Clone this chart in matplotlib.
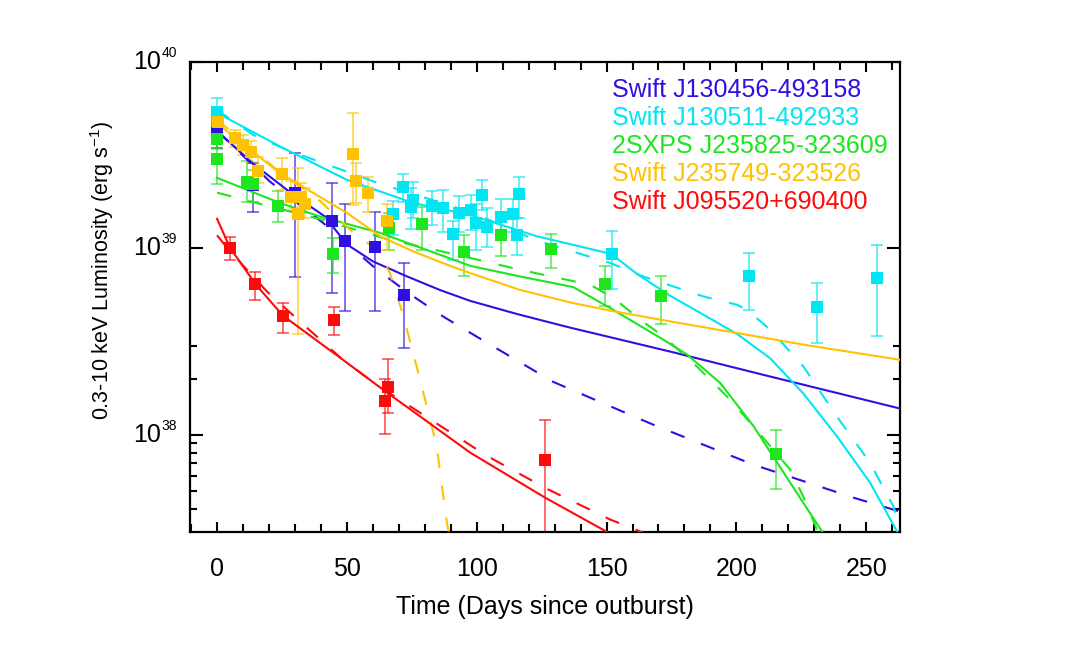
import matplotlib
matplotlib.use("Agg")
import matplotlib.pyplot as plt
import numpy as np
from matplotlib.ticker import FixedLocator, MultipleLocator, NullFormatter

plt.rcParams['font.family'] = 'Liberation Sans'
plt.rcParams['mathtext.fontset'] = 'custom'
plt.rcParams['mathtext.rm'] = 'Liberation Sans'
plt.rcParams['mathtext.it'] = 'Liberation Sans:italic'
plt.rcParams['mathtext.default'] = 'regular'

#Colours of the five sources
BLUE = '#3010e0'
CYAN = '#00e6f2'
GREEN = '#1ee61e'
YELLOW = '#ffc200'
RED = '#ff0a0a'

names = ["Swift J130456-493158", "Swift J130511-492933", "2SXPS J235825-323609",
         "Swift J235749-323526", "Swift J095520+690400"]

#Observed points: time (days), luminosity and error range in units of 1e39 erg/s
blue_t = [0, 13.7, 30.0, 44.2, 49.3, 60.9, 72.0]
blue_L = [4.30, 2.20, 1.99, 1.40, 1.09, 1.01, 0.56]
blue_lo = [3.46, 1.57, 0.70, 0.577, 0.462, 0.462, 0.29]
blue_hi = [4.60, 2.87, 3.25, 2.24, 1.73, 1.57, 0.83]

cyan_t = [0, 0, 67.9, 71.5, 74.7, 75.6, 82.7, 87.2, 91.0, 93.0, 97.7, 99.6, 102.2,
          104.1, 109.3, 114.1, 115.4, 116.1, 152, 205, 231, 254]
cyan_L = [5.40, 4.80, 1.52, 2.14, 1.67, 1.82, 1.69, 1.64, 1.19, 1.55, 1.60, 1.37, 1.94,
          1.30, 1.47, 1.53, 1.18, 1.96, 0.93, 0.706, 0.482, 0.69]
cyan_lo = [4.6, 4.1, 1.18, 1.78, 1.27, 1.45, 1.34, 1.23, 0.867, 1.23, 1.26, 0.98, 1.61,
           1.02, 1.17, 1.22, 0.923, 1.45, 0.607, 0.468, 0.31, 0.34]
cyan_hi = [6.4, 5.7, 1.80, 2.51, 2.10, 2.28, 2.04, 2.06, 1.40, 1.92, 1.94, 1.73, 2.33,
           1.64, 1.84, 1.84, 1.45, 2.41, 1.24, 0.94, 0.65, 1.045]

green_t = [0, 0, 11.4, 14.0, 23.4, 44.8, 66.4, 78.8, 95.1, 109.3, 128.7, 149.5, 170.9, 215.2]
green_L = [3.86, 3.00, 2.28, 2.21, 1.69, 0.93, 1.28, 1.35, 0.95, 1.18, 0.99, 0.646, 0.556, 0.0787]
green_lo = [3.40, 2.22, 1.78, 1.78, 1.39, 0.74, 0.977, 0.977, 0.713, 0.912, 0.783, 0.492, 0.393, 0.0513]
green_hi = [4.40, 4.18, 2.94, 2.64, 2.02, 1.135, 1.55, 1.67, 1.18, 1.45, 1.19, 0.80, 0.714, 0.106]

yellow_t = [0.3, 6.9, 9.9, 13.1, 15.9, 25.2, 28.5, 31.3, 32.2, 33.9, 52.3, 53.5, 58.3, 65.4]
yellow_L = [4.79, 3.90, 3.59, 3.30, 2.61, 2.51, 1.88, 1.53, 1.88, 1.73, 3.20, 2.30, 1.98, 1.40]
yellow_lo = [4.16, 3.51, 3.15, 2.90, 2.25, 2.06, 1.60, 0.348, 1.55, 1.45, 1.71, 1.76, 1.56, 0.98]
yellow_hi = [5.40, 4.29, 4.05, 3.75, 3.10, 3.06, 2.30, 2.69, 2.25, 2.10, 5.30, 2.86, 2.40, 1.73]

red_t = [5.0, 14.6, 25.4, 45.1, 64.7, 65.9, 126.3]
red_L = [1.00, 0.64, 0.435, 0.414, 0.152, 0.179, 0.0726]
red_lo = [0.867, 0.53, 0.352, 0.344, 0.101, 0.13, 0.029]
red_hi = [1.15, 0.748, 0.51, 0.485, 0.20, 0.256, 0.12]

#Model curves (solid and dashed), same units
blue_fit_t = [0, 13.4, 30, 41.6, 50, 60, 73, 86, 97.5, 116, 136, 174.5, 213, 263]
blue_fit_L = [4.27, 2.88, 1.91, 1.48, 1.05, 0.851, 0.708, 0.596, 0.522, 0.442, 0.375, 0.279,
              0.205, 0.138]
blue_dash_t = [0, 20.4, 40.8, 60.9, 73.7, 87, 97.5, 129.4, 168, 206.5, 245, 263]
blue_dash_L = [4.27, 2.28, 1.37, 0.783, 0.575, 0.431, 0.352, 0.192, 0.113, 0.069, 0.0459, 0.0386]

cyan_fit_t = [0, 24.3, 50, 75.6, 97.5, 123.2, 151.8, 161.7, 174.5, 187.3, 200.2, 213, 225.8,
              238.7, 251.5, 261.8]
cyan_fit_L = [5.33, 3.52, 2.33, 1.75, 1.51, 1.16, 0.933, 0.729, 0.556, 0.440, 0.347, 0.257,
              0.166, 0.098, 0.0551, 0.0303]
cyan_dash_t = [0, 13.9, 27, 40.8, 62.8, 97.5, 123.2, 151.4, 164.1, 187.2, 200.2, 204, 213,
               225.8, 238.7, 251.5, 260.4, 263]
cyan_dash_L = [5.53, 4.06, 3.37, 2.87, 2.22, 1.57, 1.10, 0.834, 0.706, 0.552, 0.498, 0.468,
               0.366, 0.232, 0.125, 0.0705, 0.0413, 0.0316]

green_fit_t = [0, 24.3, 39.7, 62.8, 97.5, 116.7, 137.2, 151.4, 171.9, 181, 193.8, 206.6, 219.5, 232.9]
green_fit_L = [2.39, 1.75, 1.48, 1.21, 0.805, 0.706, 0.619, 0.478, 0.323, 0.269, 0.189, 0.111,
               0.0586, 0.0303]
green_dash_t = [0, 15.3, 40.9, 65.4, 92.3, 116.7, 143.7, 152.7, 162.9, 171.9, 184.8, 197.6,
                206.5, 220.7, 225.7, 231]
green_dash_L = [1.99, 1.75, 1.42, 1.12, 0.923, 0.767, 0.637, 0.541, 0.414, 0.337, 0.232, 0.154,
                0.111, 0.0649, 0.0467, 0.0309]

yellow_fit_t = [0, 24.3, 37.1, 50, 62.8, 75.6, 88.5, 97.5, 116.7, 136, 151.4, 174.5, 200.2, 225.8, 263]
yellow_fit_L = [4.69, 2.53, 1.98, 1.55, 1.16, 0.962, 0.817, 0.736, 0.598, 0.512, 0.463, 0.405,
                0.351, 0.304, 0.252]
yellow_dash_t = [0, 25, 40, 51.2, 55.1, 61.5, 66.6, 71.8, 78.2, 81.4, 84.6, 88.5, 89.2]
yellow_dash_L = [4.90, 2.51, 1.78, 1.26, 1.14, 0.982, 0.736, 0.431, 0.197, 0.131, 0.0865,
                 0.0337, 0.0302]

red_fit_t = [0, 5, 15, 25.4, 46.7, 65.5, 97.5, 126.3, 150.6]
red_fit_L = [1.44, 1.007, 0.637, 0.435, 0.263, 0.168, 0.080, 0.0459, 0.0298]
red_dash_t = [0, 4.5, 19.3, 32.6, 48.9, 61.5, 103.9, 127, 151.4, 164.2]
red_dash_L = [1.175, 0.982, 0.585, 0.397, 0.249, 0.185, 0.0769, 0.0512, 0.035, 0.0297]

y_major = [1e38, 1e39, 1e40]
y_exps = ['38', '39', '40']

UNIT = 1e39
DASH = (0, (7, 8.5))


def draw_source(ax, t, L, lo, hi, fit_t, fit_L, dash_t, dash_L, col):
    L = np.array(L) * UNIT
    lo = np.array(lo) * UNIT
    hi = np.array(hi) * UNIT
    ax.errorbar(t, L, yerr=[L - lo, hi - L], fmt='none', ecolor=col, alpha=0.7,
                elinewidth=1.2, capsize=4, capthick=1.2, zorder=2)
    ax.plot(t, L, 's', color=col, ms=8, mew=0, zorder=4)
    ax.plot(fit_t, np.array(fit_L) * UNIT, '-', color=col, lw=1.5, zorder=3)
    ax.plot(dash_t, np.array(dash_L) * UNIT, color=col, lw=1.5, ls=DASH, zorder=3)


fig = plt.figure(figsize=(10.9, 6.54), dpi=100)
ax = fig.add_axes([190 / 1090, 1 - 532 / 654, 710 / 1090, 470 / 654])

draw_source(ax, blue_t, blue_L, blue_lo, blue_hi, blue_fit_t, blue_fit_L, blue_dash_t, blue_dash_L, BLUE)
draw_source(ax, cyan_t, cyan_L, cyan_lo, cyan_hi, cyan_fit_t, cyan_fit_L, cyan_dash_t, cyan_dash_L, CYAN)
draw_source(ax, green_t, green_L, green_lo, green_hi, green_fit_t, green_fit_L, green_dash_t, green_dash_L, GREEN)
draw_source(ax, yellow_t, yellow_L, yellow_lo, yellow_hi, yellow_fit_t, yellow_fit_L, yellow_dash_t, yellow_dash_L, YELLOW)
draw_source(ax, red_t, red_L, red_lo, red_hi, red_fit_t, red_fit_L, red_dash_t, red_dash_L, RED)

ax.set_yscale('log')
ax.set_xlim(-10.4, 263)
ax.set_ylim(3e37, 1e40)

ax.set_xticks([0, 50, 100, 150, 200, 250])
ax.xaxis.set_minor_locator(MultipleLocator(10))
ax.yaxis.set_major_locator(FixedLocator(y_major))
ax.yaxis.set_major_formatter(NullFormatter())
#IDL only drew a few minor ticks on this axis
ax.yaxis.set_minor_locator(FixedLocator([4e37, 5e37, 6e37, 7e37, 8e37, 9e37, 2e38, 3e38]))
ax.yaxis.set_minor_formatter(NullFormatter())

ax.tick_params(which='both', direction='in', top=True, right=True, width=1.5, labelsize=18)
ax.xaxis.set_tick_params(which='major', length=7, pad=18)
ax.xaxis.set_tick_params(which='minor', length=5.5)
ax.yaxis.set_tick_params(which='major', length=9.5)
ax.yaxis.set_tick_params(which='minor', length=4.8)
for sp in ax.spines.values():
    sp.set_linewidth(1.6)

#y tick labels drawn by hand so the exponent stays small like in IDL
ytrans = ax.get_yaxis_transform()
for val, ex in zip(y_major, y_exps):
    ax.annotate("10", xy=(0, val), xycoords=ytrans, xytext=(-21, 0), textcoords='offset points',
                ha='right', va='center', fontsize=18)
    ax.annotate(ex, xy=(0, val), xycoords=ytrans, xytext=(-20.5, 6.5), textcoords='offset points',
                ha='left', va='center', fontsize=10)

ax.set_xlabel("Time (Days since outburst)", fontsize=18)
ax.xaxis.set_label_coords(0.5, -0.134)
ax.set_ylabel("0.3-10 keV Luminosity (erg s$^{-1}$)", fontsize=15.5)
ax.yaxis.set_label_coords(-0.104, 0.557)

cols = [BLUE, CYAN, GREEN, YELLOW, RED]
for i, (name, col) in enumerate(zip(names, cols)):
    ax.text(0.594, 0.940 - i * 0.0596, name, color=col, fontsize=18,
            transform=ax.transAxes, ha='left', va='center')

fig.savefig('out.png', dpi=100)
